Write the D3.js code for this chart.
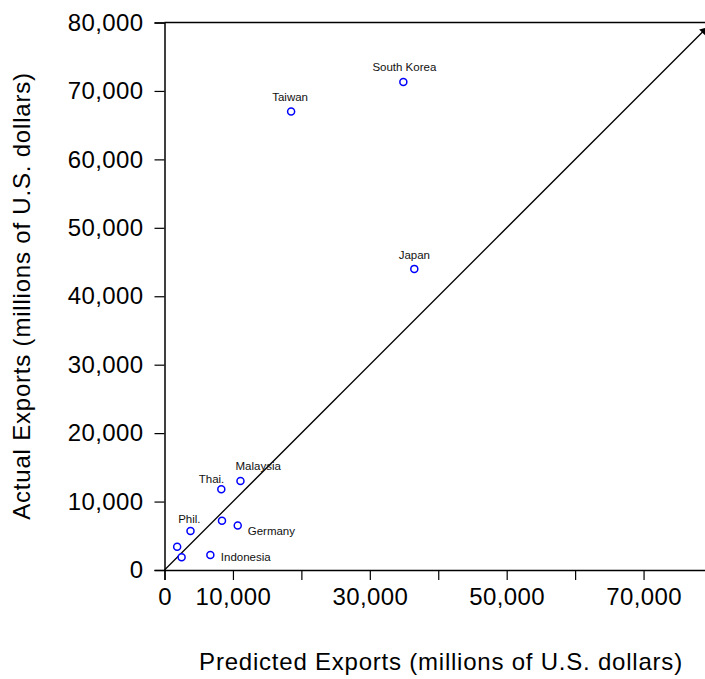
<html>
    <head>
        <script src="https://d3js.org/d3.v7.min.js"></script>
        <style>
body {
    margin: 0;
    background-color: #fff;
}
text {
    font-family: Arial, "Liberation Sans", sans-serif;
}
        </style>
    </head>
    <body>
        <div id="chart"></div>
        <script>
// data (millions of U.S. dollars)
var countries = ["South Korea", "Taiwan", "Japan", "Malaysia", "Thai.", "Phil.", "", "Germany", "", "", "Indonesia"];
var predicted = [34900, 18500, 36500, 11100, 8300, 3800, 8400, 10700, 1850, 2500, 6700];
var actual    = [71300, 67000, 44000, 13000, 11800, 5700, 7200, 6500, 3400, 1850, 2200];

var xTicks = [0, 10000, 20000, 30000, 40000, 50000, 60000, 70000, 80000];
var xTickLabels = [0, 10000, 30000, 50000, 70000];
var yTicks = [0, 10000, 20000, 30000, 40000, 50000, 60000, 70000, 80000];
var lineEnd = 78800; // where the 45 degree line stops

// label placement relative to each point
var labelPos = {
    "South Korea": {dx: 1, dy: -11, anchor: "middle"},
    "Taiwan": {dx: -1, dy: -10.5, anchor: "middle"},
    "Japan": {dx: 0, dy: -9.5, anchor: "middle"},
    "Malaysia": {dx: -5, dy: -11, anchor: "start"},
    "Thai.": {dx: 3, dy: -6.5, anchor: "end"},
    "Phil.": {dx: 10, dy: -7.5, anchor: "end"},
    "Germany": {dx: 10, dy: 9.5, anchor: "start"},
    "Indonesia": {dx: 10.5, dy: 6, anchor: "start"}
};

var width = 705, height = 679;
var fmt = d3.format(",");

var data = predicted.map(function(p, i) {
    return {name: countries[i], x: p, y: actual[i]};
});

var svg = d3.select("#chart")
    .append("svg")
    .attr("width", width)
    .attr("height", height);

var x = d3.scaleLinear().domain([0, 80000]).range([164.5, 712]);
var y = d3.scaleLinear().domain([0, 80000]).range([570, 22.5]);

// top frame line
svg.append("line")
    .attr("x1", x(0)).attr("x2", x(80000))
    .attr("y1", y(80000)).attr("y2", y(80000))
    .attr("stroke", "#000").attr("stroke-width", 1.5);

var xAxis = svg.append("g")
    .attr("transform", "translate(0," + y(0) + ")")
    .call(d3.axisBottom(x).tickValues(xTicks).tickSize(10).tickPadding(8)
        .tickFormat(function(d) { return xTickLabels.indexOf(d) >= 0 ? fmt(d) : ""; }));

var yAxis = svg.append("g")
    .attr("transform", "translate(" + x(0) + ",0)")
    .call(d3.axisLeft(y).tickValues(yTicks).tickSize(10).tickPadding(11).tickFormat(fmt));

[xAxis, yAxis].forEach(function(g) {
    g.select(".domain").attr("stroke", "#000").attr("stroke-width", 1.5);
    g.selectAll(".tick line").attr("stroke", "#000").attr("stroke-width", 1.2);
    g.selectAll(".tick text").attr("fill", "#000")
        .style("font-size", "24px").style("letter-spacing", "0.4px");
});

// 45 degree line
svg.append("line")
    .attr("x1", x(0)).attr("y1", y(0))
    .attr("x2", x(lineEnd)).attr("y2", y(lineEnd))
    .attr("stroke", "#000").attr("stroke-width", 1.3);

svg.append("path")
    .attr("d", d3.symbol().type(d3.symbolTriangle).size(30)())
    .attr("transform", "translate(" + x(lineEnd) + "," + y(lineEnd) + ") rotate(45)")
    .attr("fill", "#000");

svg.selectAll(".pt")
    .data(data)
    .enter().append("circle")
    .attr("class", "pt")
    .attr("cx", function(d) { return x(d.x); })
    .attr("cy", function(d) { return y(d.y); })
    .attr("r", 3.5)
    .attr("fill", "#fff")
    .attr("stroke", "#0000ff")
    .attr("stroke-width", 1.5);

svg.selectAll(".lbl")
    .data(data.filter(function(d) { return d.name !== ""; }))
    .enter().append("text")
    .attr("class", "lbl")
    .attr("x", function(d) { return x(d.x) + labelPos[d.name].dx; })
    .attr("y", function(d) { return y(d.y) + labelPos[d.name].dy; })
    .attr("text-anchor", function(d) { return labelPos[d.name].anchor; })
    .style("font-size", "11.5px")
    .attr("fill", "#111")
    .text(function(d) { return d.name; });

// axis titles
svg.append("text")
    .attr("x", 441)
    .attr("y", 670)
    .attr("text-anchor", "middle")
    .style("font-size", "24px")
    .style("letter-spacing", "0.78px")
    .text("Predicted Exports (millions of U.S. dollars)");

svg.append("text")
    .attr("transform", "translate(30,296) rotate(-90)")
    .attr("text-anchor", "middle")
    .style("font-size", "24px")
    .style("letter-spacing", "0.8px")
    .text("Actual Exports (millions of U.S. dollars)");
        </script>
    </body>
</html>
